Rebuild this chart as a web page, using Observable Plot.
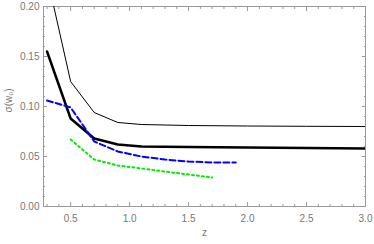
<!DOCTYPE html>
<html><head><meta charset="utf-8">
<script src="https://cdn.jsdelivr.net/npm/d3@7"></script>
<script src="https://cdn.jsdelivr.net/npm/@observablehq/plot@0.6"></script>
<style>body{margin:0;background:#fff}</style>
</head><body><div id="chart"></div>
<script>
const zThin = [0.3, 0.5, 0.7, 0.9, 1.1, 1.5, 2.0, 2.5, 3.0];
const vThin = [0.23, 0.125, 0.094, 0.084, 0.082, 0.081, 0.0805, 0.0802, 0.080];
const zThick = [0.3, 0.5, 0.7, 0.9, 1.1, 1.5, 2.0, 2.5, 3.0];
const vThick = [0.155, 0.088, 0.068, 0.062, 0.060, 0.0595, 0.059, 0.0585, 0.058];
const zBlue = [0.3, 0.5, 0.7, 0.9, 1.1, 1.3, 1.5, 1.7, 1.9];
const vBlue = [0.106, 0.099, 0.065, 0.055, 0.050, 0.047, 0.045, 0.044, 0.044];
const zGreen = [0.5, 0.7, 0.9, 1.1, 1.3, 1.5, 1.7];
const vGreen = [0.067, 0.047, 0.041, 0.038, 0.035, 0.032, 0.029];
const xMajor = [0.5, 1.0, 1.5, 2.0, 2.5, 3.0];
const xMinor = [0.3,0.4,0.6,0.7,0.8,0.9,1.1,1.2,1.3,1.4,1.6,1.7,1.8,1.9,2.1,2.2,2.3,2.4,2.6,2.7,2.8,2.9];
const yMajor = [0.00, 0.05, 0.10, 0.15, 0.20];
const yMinor = [0.01,0.02,0.03,0.04,0.06,0.07,0.08,0.09,0.11,0.12,0.13,0.14,0.16,0.17,0.18,0.19];

const pts = (zs, vs) => zs.map((z, i) => ({z, v: vs[i]}));
const gray = "#999";
const txt = "#777";
const blank = () => "";

const plot = Plot.plot({
  width: 374, height: 244,
  marginLeft: 43, marginRight: 9, marginTop: 6, marginBottom: 38,
  style: {fontFamily: "Liberation Sans, Arial, sans-serif", fontSize: "10px", background: "#fff"},
  x: {domain: [0.27, 3.0]},
  y: {domain: [0, 0.2]},
  marks: [
    Plot.frame({stroke: gray, strokeWidth: 1}),
    // major ticks inward
    Plot.axisX(xMajor, {anchor: "bottom", tickSize: -4, tickFormat: blank, label: null, stroke: gray}),
    Plot.axisX(xMajor, {anchor: "top", tickSize: -4, tickFormat: blank, label: null, stroke: gray}),
    Plot.axisX(xMinor, {anchor: "bottom", tickSize: -2, tickFormat: blank, label: null, stroke: gray}),
    Plot.axisX(xMinor, {anchor: "top", tickSize: -2, tickFormat: blank, label: null, stroke: gray}),
    Plot.axisY(yMajor, {anchor: "left", tickSize: -4, tickFormat: blank, label: null, stroke: gray}),
    Plot.axisY(yMajor, {anchor: "right", tickSize: -4, tickFormat: blank, label: null, stroke: gray}),
    Plot.axisY(yMinor, {anchor: "left", tickSize: -2, tickFormat: blank, label: null, stroke: gray}),
    Plot.axisY(yMinor, {anchor: "right", tickSize: -2, tickFormat: blank, label: null, stroke: gray}),
    // labels
    Plot.axisX(xMajor, {anchor: "bottom", tickSize: 0, tickPadding: 8, tickFormat: d3.format(".1f"), label: null, fill: txt}),
    Plot.axisY(yMajor, {anchor: "left", tickSize: 0, tickPadding: 4, tickFormat: d3.format(".2f"), label: null, fill: txt}),
    Plot.text(["z"], {frameAnchor: "bottom", dy: 29, fill: txt, fontSize: 10}),
    Plot.text(["σ(w₀)"], {frameAnchor: "left", dx: -35, dy: 6, rotate: -90, fill: txt, fontSize: 10}),
    // data
    Plot.line(pts(zThin, vThin), {x: "z", y: "v", stroke: "black", strokeWidth: 1, clip: true}),
    Plot.line(pts(zThick, vThick), {x: "z", y: "v", stroke: "black", strokeWidth: 2.5, clip: true}),
    Plot.line(pts(zBlue, vBlue), {x: "z", y: "v", stroke: "#0000ff", strokeWidth: 2, strokeDasharray: "6,3", clip: true}),
    Plot.line(pts(zGreen, vGreen), {x: "z", y: "v", stroke: "#00ee00", strokeWidth: 2, strokeDasharray: "2,3", clip: true})
  ]
});
document.getElementById("chart").append(plot);
</script>
</body></html>
